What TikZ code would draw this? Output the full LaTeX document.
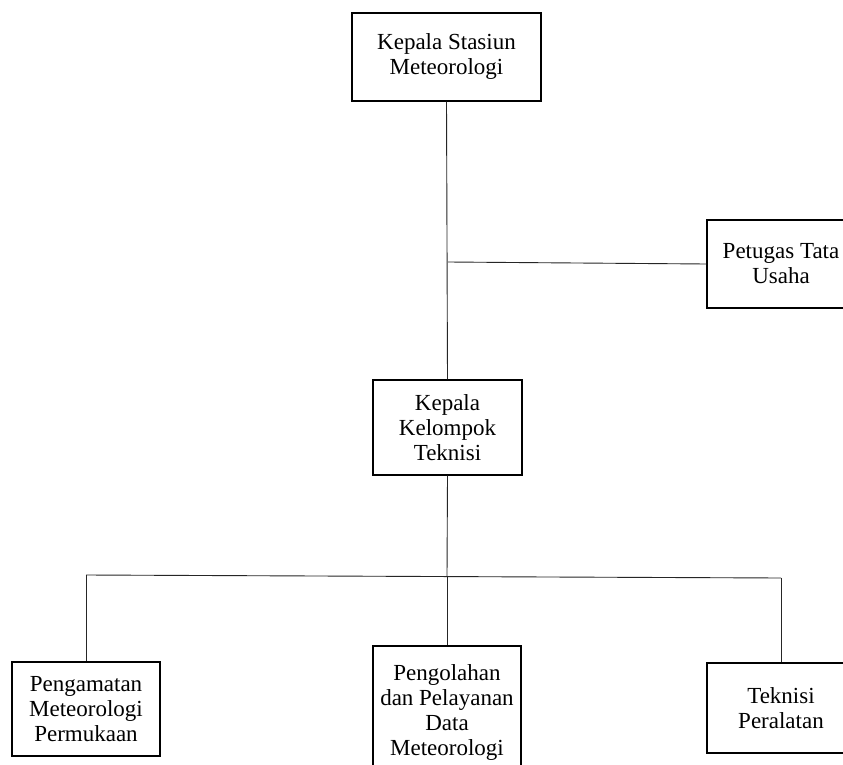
\documentclass[tikz,border=0pt]{standalone}
\usepackage{fontspec}
\setmainfont{Liberation Serif}
\begin{document}
\begin{tikzpicture}[x=1pt,y=-1pt,
  box/.style={draw=black,line width=1.3pt,rectangle,align=center,inner sep=0pt,
    font=\fontsize{23}{25}\selectfont},
  conn/.style={draw=black!85,line width=0.9pt}]
\clip (0,0) rectangle (843,765);
\fill[white] (0,0) rectangle (843,765);
\node[box,minimum width=189pt,minimum height=88pt] (ks) at (446.5,57) {Kepala Stasiun\\Meteorologi};
\node[box,minimum width=148pt,minimum height=88pt] (pt) at (781,264) {Petugas Tata\\Usaha};
\node[box,minimum width=149pt,minimum height=95pt] (kk) at (447.5,427.5) {Kepala\\Kelompok\\Teknisi};
\node[box,minimum width=148pt,minimum height=94pt] (pm) at (86,709) {Pengamatan\\Meteorologi\\Permukaan};
\node[box,minimum width=148pt,minimum height=132pt] (pd) at (447,712) {Pengolahan\\dan Pelayanan\\Data\\Meteorologi};
\node[box,minimum width=148pt,minimum height=90pt] (tp) at (781,708) {Teknisi\\Peralatan};
\coordinate (j1) at (448,262);
\coordinate (c1) at (86,575);
\coordinate (j2) at (447,576.5);
\coordinate (c3) at (781,578);
\draw[conn] (ks.south) -- (kk.north);
\draw[conn] (j1) -- (pt.west);
\draw[conn] (kk.south) -- (j2);
\draw[conn] (c1) -- (c3);
\draw[conn] (c1) -- (pm.north);
\draw[conn] (j2) -- (pd.north);
\draw[conn] (c3) -- (tp.north);
\end{tikzpicture}
\end{document}
